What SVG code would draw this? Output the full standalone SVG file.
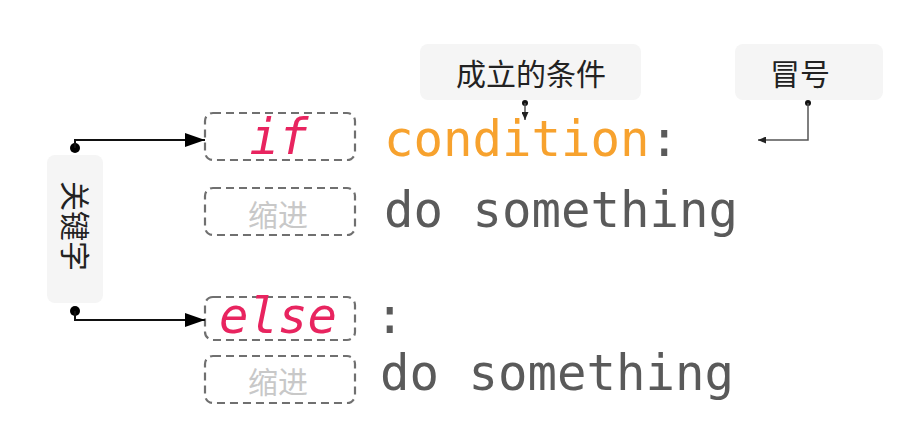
<svg xmlns="http://www.w3.org/2000/svg" width="908" height="430" viewBox="0 0 908 430">
<defs>
<style>
.label{fill:#f5f5f5;}
.cjk{font-family:"Noto Sans CJK SC","Noto Sans",sans-serif;font-size:30px;fill:#222;text-anchor:middle;}
.dash{fill:none;stroke:#707070;stroke-width:2.2;stroke-dasharray:8 5;}
.kw{font-family:"DejaVu Sans Mono",monospace;font-style:italic;font-size:49px;fill:#e8245f;text-anchor:middle;}
.code{font-family:"DejaVu Sans Mono",monospace;font-size:49px;fill:#5a5a5a;}
.indent{font-family:"Noto Sans CJK SC","Noto Sans",sans-serif;font-size:30px;fill:#c8c8c8;text-anchor:middle;}
.big{fill:none;stroke:#111;stroke-width:2;}
.small{fill:none;stroke:#555;stroke-width:1.5;}
</style>
<marker id="bigArrow" markerWidth="20" markerHeight="14" refX="20" refY="7" orient="auto" markerUnits="userSpaceOnUse">
<path d="M0,0 L20,7 L0,14 Z" fill="#000"/>
</marker>
<marker id="smallArrow" markerWidth="8" markerHeight="7" refX="8" refY="3.5" orient="auto" markerUnits="userSpaceOnUse">
<path d="M0,0 L8,3.5 L0,7 Z" fill="#222"/>
</marker>
</defs>
<rect width="908" height="430" fill="#fff"/>

<g id="keyword">
<rect class="label" x="47" y="155" width="56" height="148" rx="8"/>
<text class="cjk" transform="translate(75,226) rotate(90)" x="0" y="11">关键字</text>
</g>

<g id="condition-label">
<rect class="label" x="420" y="44" width="221" height="56" rx="8"/>
<text class="cjk" x="531" y="85">成立的条件</text>
</g>

<g id="colon-label">
<rect class="label" x="735" y="44" width="148" height="56" rx="8"/>
<text class="cjk" x="800" y="85">冒号</text>
</g>

<g id="if-box">
<rect class="dash" x="205" y="113" width="150" height="47" rx="8"/>
<text class="kw" x="279" y="154">if</text>
</g>

<g id="indent-1">
<rect class="dash" x="205" y="188" width="150" height="47" rx="8"/>
<text class="indent" x="278" y="226">缩进</text>
</g>

<g id="else-box">
<rect class="dash" x="205" y="297" width="150" height="43" rx="8"/>
<text class="kw" x="278" y="333">else</text>
</g>

<g id="indent-2">
<rect class="dash" x="205" y="356" width="150" height="47" rx="8"/>
<text class="indent" x="278" y="393">缩进</text>
</g>

<g id="code">
<text class="code" x="384" y="156"><tspan fill="#f7a22e">condition</tspan>:</text>
<text class="code" x="384" y="227">do something</text>
<text class="code" x="375" y="333">:</text>
<text class="code" x="380" y="390">do something</text>
</g>

<g id="connectors">
<circle cx="75" cy="148" r="5" fill="#000"/>
<path class="big" d="M75 148 V140 H205" marker-end="url(#bigArrow)"/>
<circle cx="75" cy="311" r="5" fill="#000"/>
<path class="big" d="M75 311 V320 H205" marker-end="url(#bigArrow)"/>
<circle cx="525" cy="103" r="3" fill="#111"/>
<path class="small" d="M525 103 V120" marker-end="url(#smallArrow)"/>
<circle cx="808" cy="103" r="3" fill="#111"/>
<path class="small" d="M808 103 V140 H758" marker-end="url(#smallArrow)"/>
</g>
</svg>
